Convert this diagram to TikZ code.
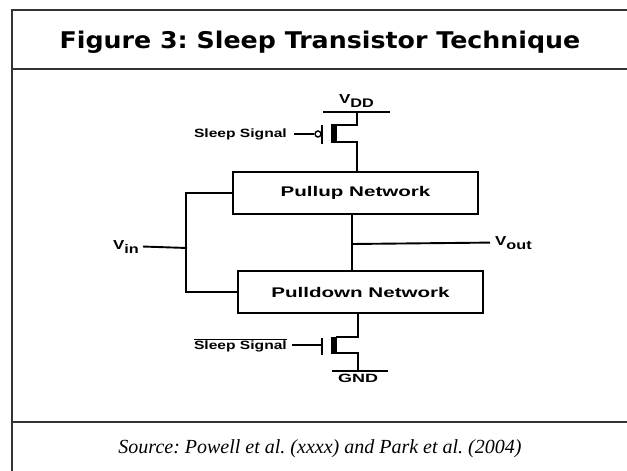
\documentclass[tikz,border=0pt]{standalone}
\usepackage{fontspec}
\setmainfont{Liberation Serif}
\setsansfont{Liberation Sans}
\newfontfamily\titlefont{DejaVu Sans}
\frenchspacing
\newcommand{\wtext}[2][1.3]{\scalebox{#1}[1]{#2}}
\newcommand{\vlabel}[2]{\wtext{V\raisebox{-4pt}{\fontsize{12.5}{13}\selectfont #2}}}
\begin{document}
\begin{tikzpicture}[x=1pt,y=-1pt,
  frameline/.style={line width=1.2pt,black!80},
  wire/.style={line width=1.9pt},
  netbox/.style={draw,line width=1.9pt,minimum width=245pt,minimum height=42pt,
    font=\sffamily\bfseries\fontsize{14}{16}\selectfont},
  lbl/.style={font=\sffamily\bfseries\fontsize{12}{14}\selectfont,inner sep=0pt},
  vlbl/.style={font=\sffamily\bfseries\fontsize{13}{15}\selectfont,inner sep=0pt}]
\useasboundingbox (0,0) rectangle (627,471);
\draw[frameline] (12,471) -- (12,10) -- (627,10);
\draw[frameline] (12,69) -- (627,69);
\draw[frameline] (12,422) -- (627,422);
\node[anchor=base,inner sep=0pt,font=\titlefont\bfseries\fontsize{23}{26}\selectfont] (title) at (320,48) {\wtext[1.1]{Figure 3: Sleep Transistor Technique}};
\node[anchor=base,inner sep=0pt,font=\itshape\fontsize{20}{23}\selectfont] (source) at (320,453) {Source: Powell et al. (xxxx) and Park et al. (2004)};

\node[netbox] (pullup) at (355.5,193) {\wtext[1.47]{Pullup Network}};
\node[netbox] (pulldown) at (360.5,292) {\wtext[1.47]{Pulldown Network}};

\coordinate (vddL) at (323,112);
\coordinate (vddR) at (390,112);
\draw[wire] (vddL) -- (vddR);
\node[vlbl,anchor=base west] (vdd) at (339,103) {\vlabel{}{DD}};

\coordinate (pD) at (357,112);
\coordinate (pS) at (357,142);
\draw[wire] (pD) |- (336,125);
\fill (331,124) rectangle (337,143);
\draw[wire] (322,125) -- (322,144);
\node[circle,draw,line width=1.4pt,inner sep=0pt,minimum size=6pt] (bub) at (318,134) {};
\node[lbl,anchor=east] (sleepP) at (287,134) {\wtext{Sleep Signal}};
\draw[wire] ([xshift=7pt]sleepP.east) -- (bub.west);
\draw[wire] (336,142) -- (pS) -- (pS |- pullup.north);

\draw[wire] (pullup.west) -- ++(-46,0) |- (pulldown.west);
\coordinate (vinbus) at (187,248);
\node[vlbl,anchor=base west] (vin) at (113,249) {\vlabel{}{in}};
\draw[wire] ([xshift=4pt]vin.east) -- (vinbus);

\coordinate (out) at (352,244);
\draw[wire] (pullup.south -| out) -- (pulldown.north -| out);
\node[vlbl,anchor=base west] (vout) at (495,245) {\vlabel{}{out}};
\draw[wire] (out) -- ([xshift=-5pt]vout.west);

\coordinate (nD) at (358,337);
\coordinate (nS) at (358,353);
\coordinate (gnd) at (358,371);
\draw[wire] (pulldown.south -| nD) -- (nD) -- (336,337);
\fill (331,337) rectangle (337,354);
\draw[wire] (322,338) -- (322,355);
\node[lbl,anchor=east] (sleepN) at (287,345) {\wtext{$\overline{\mbox{Sleep Signal}}$}};
\draw[wire] ([xshift=5pt]sleepN.east) -- (322,345);
\draw[wire] (336,353) -- (nS) -- (gnd);
\draw[wire] (332,371) -- (388,371);
\node[lbl,anchor=north] (gndlbl) at (gnd |- 0,374) {\wtext[1.5]{GND}};
\end{tikzpicture}
\end{document}
